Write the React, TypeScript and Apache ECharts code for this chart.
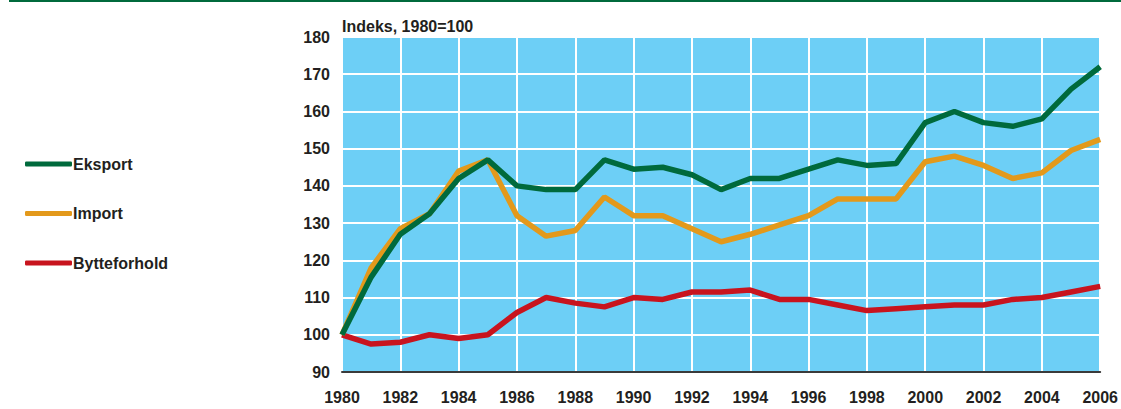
import React, { useEffect, useRef } from "react";
import * as echarts from "echarts";

const years = [1980,1981,1982,1983,1984,1985,1986,1987,1988,1989,1990,1991,1992,1993,1994,1995,1996,1997,1998,1999,2000,2001,2002,2003,2004,2005,2006];
const eksport = [100,115.5,127,132.5,142,147,140,139,139,147,144.5,145,143,139,142,142,144.5,147,145.5,146,157,160,157,156,158,166,172];
const importVals = [100,118,128.5,132.5,144,147,132,126.5,128,137,132,132,128.5,125,127,129.5,132,136.5,136.5,136.5,146.5,148,145.5,142,143.5,149.5,152.5];
const bytteforhold = [100,97.5,98,100,99,100,106,110,108.5,107.5,110,109.5,111.5,111.5,112,109.5,109.5,108,106.5,107,107.5,108,108,109.5,110,111.5,113];
const seriesNames = ["Eksport", "Import", "Bytteforhold"];
const colors = ["#006a3c", "#e3991b", "#c8141e"];
const yTitle = "Indeks, 1980=100";

const FONT = "'Liberation Sans', Arial, sans-serif";
const TXT = "#231f20";

export default function App() {
  const ref = useRef<HTMLDivElement>(null);
  useEffect(() => {
    if (!ref.current) return;
    const chart = echarts.init(ref.current, null, { renderer: "svg" });
    const all = [eksport, importVals, bytteforhold];
    chart.setOption({
      animation: false,
      textStyle: { fontFamily: FONT },
      grid: { left: 342, right: 19, top: 37, bottom: 37, show: true, backgroundColor: "#6dcff6", borderWidth: 0 },
      legend: {
        orient: "vertical",
        left: 25,
        top: 156,
        padding: 0,
        itemWidth: 47,
        itemHeight: 5,
        itemGap: 33.5,
        icon: "roundRect",
        data: seriesNames,
        textStyle: { fontFamily: FONT, fontSize: 16, fontWeight: "bold", color: TXT, padding: [0, 0, 0, -4] },
      },
      xAxis: {
        type: "value",
        min: 1980,
        max: 2006,
        interval: 2,
        axisLine: { show: true, lineStyle: { color: "#3a3a3a", width: 2 } },
        axisTick: { show: false },
        axisLabel: { fontFamily: FONT, fontSize: 16, fontWeight: "bold", color: TXT, margin: 17, formatter: (v: number) => String(v) },
        splitLine: { show: true, lineStyle: { color: "#ffffff", width: 2 } },
      },
      yAxis: {
        type: "value",
        min: 90,
        max: 180,
        interval: 10,
        axisLine: { show: false },
        axisTick: { show: false },
        axisLabel: { fontFamily: FONT, fontSize: 16, fontWeight: "bold", color: TXT, margin: 12 },
        splitLine: { show: true, lineStyle: { color: "#ffffff", width: 2 } },
      },
      graphic: [
        { type: "rect", left: 9, top: 0, shape: { width: 1112, height: 2 }, style: { fill: "#006a3c" } },
        { type: "text", left: 342, top: 18, style: { text: yTitle, font: `bold 16px ${FONT}`, fill: TXT } },
      ],
      series: all.map((d, i) => ({
        name: seriesNames[i],
        type: "line",
        data: years.map((y, j) => [y, d[j]]),
        showSymbol: false,
        symbol: "none",
        lineStyle: { color: colors[i], width: 5.5 },
        itemStyle: { color: colors[i] },
        z: 5 - i,
      })),
    });
    return () => chart.dispose();
  }, []);
  return <div ref={ref} style={{ width: 1121, height: 409, position: "absolute", left: 0, top: 0 }} />;
}
